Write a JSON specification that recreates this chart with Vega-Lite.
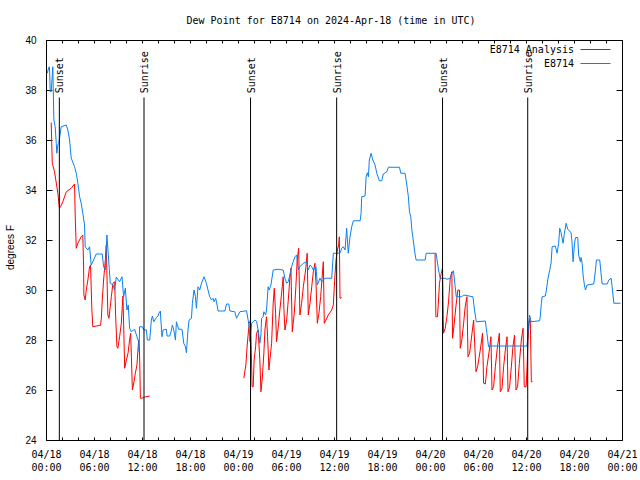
{
  "$schema": "https://vega.github.io/schema/vega-lite/v6.json",
  "width": 576,
  "height": 400,
  "autosize": "none",
  "padding": {"left": 46, "top": 40, "right": 18, "bottom": 40},
  "background": "white",
  "config": {
    "view": {"stroke": "black", "strokeWidth": 1},
    "axis": {"grid": false, "domain": false, "tickColor": "black", "labelColor": "black"}
  },
  "title": {
    "text": "Dew Point for E8714 on 2024-Apr-18 (time in UTC)",
    "font": "DejaVu Sans Mono", "fontSize": 10, "fontWeight": "normal", "color": "black",
    "anchor": "middle", "frame": "group", "offset": 9, "dx": -3
  },
  "resolve": {"axis": {"x": "independent", "y": "independent"}},
  "layer": [
    {
      "data": {
        "values": [
          {"s": "E8714 Analysis", "g": 1, "t": "2024-04-18T00:39:00Z", "v": 36.7},
          {"s": "E8714 Analysis", "g": 1, "t": "2024-04-18T00:47:00Z", "v": 35.07},
          {"s": "E8714 Analysis", "g": 1, "t": "2024-04-18T01:04:00Z", "v": 34.73},
          {"s": "E8714 Analysis", "g": 1, "t": "2024-04-18T01:29:00Z", "v": 33.87},
          {"s": "E8714 Analysis", "g": 1, "t": "2024-04-18T01:41:00Z", "v": 33.27},
          {"s": "E8714 Analysis", "g": 1, "t": "2024-04-18T01:49:00Z", "v": 33.33},
          {"s": "E8714 Analysis", "g": 1, "t": "2024-04-18T02:06:00Z", "v": 33.53},
          {"s": "E8714 Analysis", "g": 1, "t": "2024-04-18T02:32:00Z", "v": 33.93},
          {"s": "E8714 Analysis", "g": 1, "t": "2024-04-18T03:09:00Z", "v": 34.07},
          {"s": "E8714 Analysis", "g": 1, "t": "2024-04-18T03:34:00Z", "v": 34.24},
          {"s": "E8714 Analysis", "g": 1, "t": "2024-04-18T03:39:00Z", "v": 33.0},
          {"s": "E8714 Analysis", "g": 1, "t": "2024-04-18T03:47:00Z", "v": 31.67},
          {"s": "E8714 Analysis", "g": 1, "t": "2024-04-18T03:59:00Z", "v": 31.87},
          {"s": "E8714 Analysis", "g": 1, "t": "2024-04-18T04:24:00Z", "v": 32.13},
          {"s": "E8714 Analysis", "g": 1, "t": "2024-04-18T04:36:00Z", "v": 32.2},
          {"s": "E8714 Analysis", "g": 1, "t": "2024-04-18T04:42:00Z", "v": 31.0},
          {"s": "E8714 Analysis", "g": 1, "t": "2024-04-18T04:44:00Z", "v": 29.8},
          {"s": "E8714 Analysis", "g": 1, "t": "2024-04-18T04:54:00Z", "v": 29.6},
          {"s": "E8714 Analysis", "g": 1, "t": "2024-04-18T05:02:00Z", "v": 30.0},
          {"s": "E8714 Analysis", "g": 1, "t": "2024-04-18T05:14:00Z", "v": 30.4},
          {"s": "E8714 Analysis", "g": 1, "t": "2024-04-18T05:27:00Z", "v": 30.93},
          {"s": "E8714 Analysis", "g": 1, "t": "2024-04-18T05:34:00Z", "v": 31.0},
          {"s": "E8714 Analysis", "g": 1, "t": "2024-04-18T05:44:00Z", "v": 29.2},
          {"s": "E8714 Analysis", "g": 1, "t": "2024-04-18T05:51:00Z", "v": 28.53},
          {"s": "E8714 Analysis", "g": 1, "t": "2024-04-18T06:17:00Z", "v": 28.56},
          {"s": "E8714 Analysis", "g": 1, "t": "2024-04-18T06:49:00Z", "v": 28.59},
          {"s": "E8714 Analysis", "g": 1, "t": "2024-04-18T06:55:00Z", "v": 28.87},
          {"s": "E8714 Analysis", "g": 1, "t": "2024-04-18T07:02:00Z", "v": 29.6},
          {"s": "E8714 Analysis", "g": 1, "t": "2024-04-18T07:12:00Z", "v": 30.4},
          {"s": "E8714 Analysis", "g": 1, "t": "2024-04-18T07:25:00Z", "v": 31.2},
          {"s": "E8714 Analysis", "g": 1, "t": "2024-04-18T07:32:00Z", "v": 31.8},
          {"s": "E8714 Analysis", "g": 1, "t": "2024-04-18T07:44:00Z", "v": 29.0},
          {"s": "E8714 Analysis", "g": 1, "t": "2024-04-18T07:52:00Z", "v": 28.87},
          {"s": "E8714 Analysis", "g": 1, "t": "2024-04-18T08:02:00Z", "v": 29.33},
          {"s": "E8714 Analysis", "g": 1, "t": "2024-04-18T08:10:00Z", "v": 29.73},
          {"s": "E8714 Analysis", "g": 1, "t": "2024-04-18T08:22:00Z", "v": 30.27},
          {"s": "E8714 Analysis", "g": 1, "t": "2024-04-18T08:35:00Z", "v": 30.33},
          {"s": "E8714 Analysis", "g": 1, "t": "2024-04-18T08:42:00Z", "v": 29.0},
          {"s": "E8714 Analysis", "g": 1, "t": "2024-04-18T08:52:00Z", "v": 27.73},
          {"s": "E8714 Analysis", "g": 1, "t": "2024-04-18T08:59:00Z", "v": 27.67},
          {"s": "E8714 Analysis", "g": 1, "t": "2024-04-18T09:12:00Z", "v": 28.13},
          {"s": "E8714 Analysis", "g": 1, "t": "2024-04-18T09:25:00Z", "v": 28.67},
          {"s": "E8714 Analysis", "g": 1, "t": "2024-04-18T09:32:00Z", "v": 29.33},
          {"s": "E8714 Analysis", "g": 1, "t": "2024-04-18T09:37:00Z", "v": 29.76},
          {"s": "E8714 Analysis", "g": 1, "t": "2024-04-18T09:44:00Z", "v": 28.27},
          {"s": "E8714 Analysis", "g": 1, "t": "2024-04-18T09:50:00Z", "v": 26.87},
          {"s": "E8714 Analysis", "g": 1, "t": "2024-04-18T10:03:00Z", "v": 27.2},
          {"s": "E8714 Analysis", "g": 1, "t": "2024-04-18T10:15:00Z", "v": 27.47},
          {"s": "E8714 Analysis", "g": 1, "t": "2024-04-18T10:27:00Z", "v": 28.0},
          {"s": "E8714 Analysis", "g": 1, "t": "2024-04-18T10:35:00Z", "v": 28.27},
          {"s": "E8714 Analysis", "g": 1, "t": "2024-04-18T10:40:00Z", "v": 27.4},
          {"s": "E8714 Analysis", "g": 1, "t": "2024-04-18T10:48:00Z", "v": 26.0},
          {"s": "E8714 Analysis", "g": 1, "t": "2024-04-18T11:00:00Z", "v": 26.33},
          {"s": "E8714 Analysis", "g": 1, "t": "2024-04-18T11:10:00Z", "v": 26.67},
          {"s": "E8714 Analysis", "g": 1, "t": "2024-04-18T11:22:00Z", "v": 27.0},
          {"s": "E8714 Analysis", "g": 1, "t": "2024-04-18T11:35:00Z", "v": 28.0},
          {"s": "E8714 Analysis", "g": 1, "t": "2024-04-18T11:42:00Z", "v": 27.4},
          {"s": "E8714 Analysis", "g": 1, "t": "2024-04-18T11:48:00Z", "v": 25.67},
          {"s": "E8714 Analysis", "g": 1, "t": "2024-04-18T11:57:00Z", "v": 25.67},
          {"s": "E8714 Analysis", "g": 1, "t": "2024-04-18T12:28:00Z", "v": 25.73},
          {"s": "E8714 Analysis", "g": 1, "t": "2024-04-18T12:58:00Z", "v": 25.76},
          {"s": "E8714 Analysis", "g": 2, "t": "2024-04-19T00:44:00Z", "v": 26.47},
          {"s": "E8714 Analysis", "g": 2, "t": "2024-04-19T00:59:00Z", "v": 27.0},
          {"s": "E8714 Analysis", "g": 2, "t": "2024-04-19T01:09:00Z", "v": 27.8},
          {"s": "E8714 Analysis", "g": 2, "t": "2024-04-19T01:24:00Z", "v": 28.67},
          {"s": "E8714 Analysis", "g": 2, "t": "2024-04-19T01:34:00Z", "v": 28.8},
          {"s": "E8714 Analysis", "g": 2, "t": "2024-04-19T01:46:00Z", "v": 26.13},
          {"s": "E8714 Analysis", "g": 2, "t": "2024-04-19T01:54:00Z", "v": 26.13},
          {"s": "E8714 Analysis", "g": 2, "t": "2024-04-19T02:01:00Z", "v": 27.2},
          {"s": "E8714 Analysis", "g": 2, "t": "2024-04-19T02:12:00Z", "v": 27.73},
          {"s": "E8714 Analysis", "g": 2, "t": "2024-04-19T02:19:00Z", "v": 28.27},
          {"s": "E8714 Analysis", "g": 2, "t": "2024-04-19T02:31:00Z", "v": 28.4},
          {"s": "E8714 Analysis", "g": 2, "t": "2024-04-19T02:44:00Z", "v": 27.2},
          {"s": "E8714 Analysis", "g": 2, "t": "2024-04-19T02:52:00Z", "v": 25.93},
          {"s": "E8714 Analysis", "g": 2, "t": "2024-04-19T03:01:00Z", "v": 26.4},
          {"s": "E8714 Analysis", "g": 2, "t": "2024-04-19T03:14:00Z", "v": 27.47},
          {"s": "E8714 Analysis", "g": 2, "t": "2024-04-19T03:22:00Z", "v": 28.4},
          {"s": "E8714 Analysis", "g": 2, "t": "2024-04-19T03:34:00Z", "v": 28.93},
          {"s": "E8714 Analysis", "g": 2, "t": "2024-04-19T03:42:00Z", "v": 28.13},
          {"s": "E8714 Analysis", "g": 2, "t": "2024-04-19T03:52:00Z", "v": 26.8},
          {"s": "E8714 Analysis", "g": 2, "t": "2024-04-19T03:59:00Z", "v": 27.2},
          {"s": "E8714 Analysis", "g": 2, "t": "2024-04-19T04:12:00Z", "v": 27.87},
          {"s": "E8714 Analysis", "g": 2, "t": "2024-04-19T04:24:00Z", "v": 29.47},
          {"s": "E8714 Analysis", "g": 2, "t": "2024-04-19T04:32:00Z", "v": 30.07},
          {"s": "E8714 Analysis", "g": 2, "t": "2024-04-19T04:42:00Z", "v": 29.07},
          {"s": "E8714 Analysis", "g": 2, "t": "2024-04-19T04:49:00Z", "v": 27.93},
          {"s": "E8714 Analysis", "g": 2, "t": "2024-04-19T05:02:00Z", "v": 28.53},
          {"s": "E8714 Analysis", "g": 2, "t": "2024-04-19T05:14:00Z", "v": 29.2},
          {"s": "E8714 Analysis", "g": 2, "t": "2024-04-19T05:32:00Z", "v": 30.13},
          {"s": "E8714 Analysis", "g": 2, "t": "2024-04-19T05:39:00Z", "v": 30.53},
          {"s": "E8714 Analysis", "g": 2, "t": "2024-04-19T05:44:00Z", "v": 29.27},
          {"s": "E8714 Analysis", "g": 2, "t": "2024-04-19T05:52:00Z", "v": 28.4},
          {"s": "E8714 Analysis", "g": 2, "t": "2024-04-19T06:05:00Z", "v": 28.8},
          {"s": "E8714 Analysis", "g": 2, "t": "2024-04-19T06:17:00Z", "v": 29.6},
          {"s": "E8714 Analysis", "g": 2, "t": "2024-04-19T06:29:00Z", "v": 30.47},
          {"s": "E8714 Analysis", "g": 2, "t": "2024-04-19T06:37:00Z", "v": 30.87},
          {"s": "E8714 Analysis", "g": 2, "t": "2024-04-19T06:47:00Z", "v": 28.33},
          {"s": "E8714 Analysis", "g": 2, "t": "2024-04-19T07:02:00Z", "v": 29.07},
          {"s": "E8714 Analysis", "g": 2, "t": "2024-04-19T07:14:00Z", "v": 30.13},
          {"s": "E8714 Analysis", "g": 2, "t": "2024-04-19T07:24:00Z", "v": 31.2},
          {"s": "E8714 Analysis", "g": 2, "t": "2024-04-19T07:35:00Z", "v": 31.67},
          {"s": "E8714 Analysis", "g": 2, "t": "2024-04-19T07:44:00Z", "v": 29.0},
          {"s": "E8714 Analysis", "g": 2, "t": "2024-04-19T07:57:00Z", "v": 29.47},
          {"s": "E8714 Analysis", "g": 2, "t": "2024-04-19T08:10:00Z", "v": 30.13},
          {"s": "E8714 Analysis", "g": 2, "t": "2024-04-19T08:27:00Z", "v": 30.8},
          {"s": "E8714 Analysis", "g": 2, "t": "2024-04-19T08:39:00Z", "v": 31.47},
          {"s": "E8714 Analysis", "g": 2, "t": "2024-04-19T08:47:00Z", "v": 29.0},
          {"s": "E8714 Analysis", "g": 2, "t": "2024-04-19T09:00:00Z", "v": 29.47},
          {"s": "E8714 Analysis", "g": 2, "t": "2024-04-19T09:13:00Z", "v": 30.13},
          {"s": "E8714 Analysis", "g": 2, "t": "2024-04-19T09:25:00Z", "v": 30.73},
          {"s": "E8714 Analysis", "g": 2, "t": "2024-04-19T09:37:00Z", "v": 31.07},
          {"s": "E8714 Analysis", "g": 2, "t": "2024-04-19T09:45:00Z", "v": 30.27},
          {"s": "E8714 Analysis", "g": 2, "t": "2024-04-19T09:55:00Z", "v": 28.67},
          {"s": "E8714 Analysis", "g": 2, "t": "2024-04-19T10:07:00Z", "v": 29.07},
          {"s": "E8714 Analysis", "g": 2, "t": "2024-04-19T10:20:00Z", "v": 29.73},
          {"s": "E8714 Analysis", "g": 2, "t": "2024-04-19T10:35:00Z", "v": 30.8},
          {"s": "E8714 Analysis", "g": 2, "t": "2024-04-19T10:40:00Z", "v": 31.13},
          {"s": "E8714 Analysis", "g": 2, "t": "2024-04-19T10:47:00Z", "v": 28.67},
          {"s": "E8714 Analysis", "g": 2, "t": "2024-04-19T11:00:00Z", "v": 28.8},
          {"s": "E8714 Analysis", "g": 2, "t": "2024-04-19T11:17:00Z", "v": 29.0},
          {"s": "E8714 Analysis", "g": 2, "t": "2024-04-19T11:43:00Z", "v": 29.2},
          {"s": "E8714 Analysis", "g": 2, "t": "2024-04-19T11:55:00Z", "v": 29.4},
          {"s": "E8714 Analysis", "g": 2, "t": "2024-04-19T12:05:00Z", "v": 30.4},
          {"s": "E8714 Analysis", "g": 2, "t": "2024-04-19T12:15:00Z", "v": 31.2},
          {"s": "E8714 Analysis", "g": 2, "t": "2024-04-19T12:25:00Z", "v": 31.6},
          {"s": "E8714 Analysis", "g": 2, "t": "2024-04-19T12:35:00Z", "v": 31.8},
          {"s": "E8714 Analysis", "g": 2, "t": "2024-04-19T12:40:00Z", "v": 32.13},
          {"s": "E8714 Analysis", "g": 2, "t": "2024-04-19T12:45:00Z", "v": 29.67},
          {"s": "E8714 Analysis", "g": 2, "t": "2024-04-19T12:58:00Z", "v": 29.7},
          {"s": "E8714 Analysis", "g": 3, "t": "2024-04-20T00:38:00Z", "v": 31.47},
          {"s": "E8714 Analysis", "g": 3, "t": "2024-04-20T00:44:00Z", "v": 28.93},
          {"s": "E8714 Analysis", "g": 3, "t": "2024-04-20T00:56:00Z", "v": 28.93},
          {"s": "E8714 Analysis", "g": 3, "t": "2024-04-20T01:04:00Z", "v": 29.6},
          {"s": "E8714 Analysis", "g": 3, "t": "2024-04-20T01:11:00Z", "v": 30.27},
          {"s": "E8714 Analysis", "g": 3, "t": "2024-04-20T01:24:00Z", "v": 30.67},
          {"s": "E8714 Analysis", "g": 3, "t": "2024-04-20T01:34:00Z", "v": 30.87},
          {"s": "E8714 Analysis", "g": 3, "t": "2024-04-20T01:41:00Z", "v": 28.27},
          {"s": "E8714 Analysis", "g": 3, "t": "2024-04-20T01:54:00Z", "v": 28.47},
          {"s": "E8714 Analysis", "g": 3, "t": "2024-04-20T02:07:00Z", "v": 28.93},
          {"s": "E8714 Analysis", "g": 3, "t": "2024-04-20T02:19:00Z", "v": 29.53},
          {"s": "E8714 Analysis", "g": 3, "t": "2024-04-20T02:32:00Z", "v": 30.47},
          {"s": "E8714 Analysis", "g": 3, "t": "2024-04-20T02:44:00Z", "v": 30.73},
          {"s": "E8714 Analysis", "g": 3, "t": "2024-04-20T02:49:00Z", "v": 28.07},
          {"s": "E8714 Analysis", "g": 3, "t": "2024-04-20T03:02:00Z", "v": 28.67},
          {"s": "E8714 Analysis", "g": 3, "t": "2024-04-20T03:14:00Z", "v": 29.33},
          {"s": "E8714 Analysis", "g": 3, "t": "2024-04-20T03:29:00Z", "v": 30.0},
          {"s": "E8714 Analysis", "g": 3, "t": "2024-04-20T03:41:00Z", "v": 30.0},
          {"s": "E8714 Analysis", "g": 3, "t": "2024-04-20T03:47:00Z", "v": 27.67},
          {"s": "E8714 Analysis", "g": 3, "t": "2024-04-20T03:59:00Z", "v": 28.0},
          {"s": "E8714 Analysis", "g": 3, "t": "2024-04-20T04:12:00Z", "v": 28.67},
          {"s": "E8714 Analysis", "g": 3, "t": "2024-04-20T04:24:00Z", "v": 29.33},
          {"s": "E8714 Analysis", "g": 3, "t": "2024-04-20T04:37:00Z", "v": 29.73},
          {"s": "E8714 Analysis", "g": 3, "t": "2024-04-20T04:45:00Z", "v": 27.33},
          {"s": "E8714 Analysis", "g": 3, "t": "2024-04-20T04:57:00Z", "v": 27.47},
          {"s": "E8714 Analysis", "g": 3, "t": "2024-04-20T05:15:00Z", "v": 28.27},
          {"s": "E8714 Analysis", "g": 3, "t": "2024-04-20T05:27:00Z", "v": 28.8},
          {"s": "E8714 Analysis", "g": 3, "t": "2024-04-20T05:45:00Z", "v": 26.73},
          {"s": "E8714 Analysis", "g": 3, "t": "2024-04-20T05:57:00Z", "v": 26.93},
          {"s": "E8714 Analysis", "g": 3, "t": "2024-04-20T06:17:00Z", "v": 27.6},
          {"s": "E8714 Analysis", "g": 3, "t": "2024-04-20T06:34:00Z", "v": 28.27},
          {"s": "E8714 Analysis", "g": 3, "t": "2024-04-20T06:42:00Z", "v": 26.27},
          {"s": "E8714 Analysis", "g": 3, "t": "2024-04-20T06:55:00Z", "v": 26.24},
          {"s": "E8714 Analysis", "g": 3, "t": "2024-04-20T07:07:00Z", "v": 26.93},
          {"s": "E8714 Analysis", "g": 3, "t": "2024-04-20T07:25:00Z", "v": 27.6},
          {"s": "E8714 Analysis", "g": 3, "t": "2024-04-20T07:37:00Z", "v": 28.13},
          {"s": "E8714 Analysis", "g": 3, "t": "2024-04-20T07:45:00Z", "v": 26.0},
          {"s": "E8714 Analysis", "g": 3, "t": "2024-04-20T07:57:00Z", "v": 26.13},
          {"s": "E8714 Analysis", "g": 3, "t": "2024-04-20T08:10:00Z", "v": 26.93},
          {"s": "E8714 Analysis", "g": 3, "t": "2024-04-20T08:23:00Z", "v": 27.6},
          {"s": "E8714 Analysis", "g": 3, "t": "2024-04-20T08:40:00Z", "v": 28.27},
          {"s": "E8714 Analysis", "g": 3, "t": "2024-04-20T08:47:00Z", "v": 25.93},
          {"s": "E8714 Analysis", "g": 3, "t": "2024-04-20T09:00:00Z", "v": 26.07},
          {"s": "E8714 Analysis", "g": 3, "t": "2024-04-20T09:12:00Z", "v": 26.93},
          {"s": "E8714 Analysis", "g": 3, "t": "2024-04-20T09:25:00Z", "v": 27.6},
          {"s": "E8714 Analysis", "g": 3, "t": "2024-04-20T09:38:00Z", "v": 28.13},
          {"s": "E8714 Analysis", "g": 3, "t": "2024-04-20T09:45:00Z", "v": 25.93},
          {"s": "E8714 Analysis", "g": 3, "t": "2024-04-20T09:57:00Z", "v": 26.13},
          {"s": "E8714 Analysis", "g": 3, "t": "2024-04-20T10:10:00Z", "v": 26.93},
          {"s": "E8714 Analysis", "g": 3, "t": "2024-04-20T10:22:00Z", "v": 27.73},
          {"s": "E8714 Analysis", "g": 3, "t": "2024-04-20T10:34:00Z", "v": 28.2},
          {"s": "E8714 Analysis", "g": 3, "t": "2024-04-20T10:45:00Z", "v": 26.0},
          {"s": "E8714 Analysis", "g": 3, "t": "2024-04-20T10:57:00Z", "v": 26.13},
          {"s": "E8714 Analysis", "g": 3, "t": "2024-04-20T11:10:00Z", "v": 27.07},
          {"s": "E8714 Analysis", "g": 3, "t": "2024-04-20T11:25:00Z", "v": 28.0},
          {"s": "E8714 Analysis", "g": 3, "t": "2024-04-20T11:38:00Z", "v": 28.47},
          {"s": "E8714 Analysis", "g": 3, "t": "2024-04-20T11:47:00Z", "v": 26.13},
          {"s": "E8714 Analysis", "g": 3, "t": "2024-04-20T12:01:00Z", "v": 26.13},
          {"s": "E8714 Analysis", "g": 3, "t": "2024-04-20T12:08:00Z", "v": 26.93},
          {"s": "E8714 Analysis", "g": 3, "t": "2024-04-20T12:15:00Z", "v": 28.0},
          {"s": "E8714 Analysis", "g": 3, "t": "2024-04-20T12:23:00Z", "v": 28.67},
          {"s": "E8714 Analysis", "g": 3, "t": "2024-04-20T12:32:00Z", "v": 28.87},
          {"s": "E8714 Analysis", "g": 3, "t": "2024-04-20T12:40:00Z", "v": 26.33},
          {"s": "E8714 Analysis", "g": 3, "t": "2024-04-20T12:50:00Z", "v": 26.33}
        ]
      },
      "mark": {"type": "line", "strokeWidth": 1},
      "encoding": {
        "x": {
          "field": "t", "type": "temporal",
          "scale": {"type": "utc", "nice": false, "domain": [1713398400000, 1713657600000]},
          "axis": {
            "orient": "bottom", "title": null,
            "values": [1713398400000, 1713405600000, 1713412800000, 1713420000000, 1713427200000, 1713434400000, 1713441600000, 1713448800000, 1713456000000, 1713463200000, 1713470400000, 1713477600000, 1713484800000, 1713492000000, 1713499200000, 1713506400000, 1713513600000, 1713520800000, 1713528000000, 1713535200000, 1713542400000, 1713549600000, 1713556800000, 1713564000000, 1713571200000, 1713578400000, 1713585600000, 1713592800000, 1713600000000, 1713607200000, 1713614400000, 1713621600000, 1713628800000, 1713636000000, 1713643200000, 1713650400000, 1713657600000],
            "tickCount": 40,
            "tickSize": -3,
            "labelExpr": "utchours(datum.value) % 6 == 0 ? [utcFormat(datum.value, '%m/%d'), utcFormat(datum.value, '%H:%M')] : ''",
            "labelFont": "DejaVu Sans Mono", "labelFontSize": 10, "labelLineHeight": 13,
            "labelBaseline": "top", "labelPadding": 12,
            "labelOverlap": false, "labelFlush": false, "labelBound": false
          }
        },
        "y": {
          "field": "v", "type": "quantitative",
          "scale": {"domain": [24, 40], "nice": false, "zero": false},
          "axis": {
            "orient": "left",
            "values": [24, 26, 28, 30, 32, 34, 36, 38, 40], "tickCount": 10,
            "tickSize": -6, "labelFont": "Liberation Sans", "labelFontSize": 10, "labelPadding": 16,
            "title": "degrees F", "titleFont": "Liberation Sans", "titleFontSize": 10, "titleFontWeight": "normal",
            "titleColor": "black", "titleX": -33, "titleY": 207, "titleAngle": 270, "titleAlign": "center", "titleBaseline": "alphabetic"
          }
        },
        "detail": {"field": "g", "type": "nominal"},
        "color": {
          "field": "s", "type": "nominal",
          "scale": {"domain": ["E8714 Analysis", "E8714"], "range": ["#ff0000", "#0a80f0"]},
          "legend": {
            "orient": "none", "legendX": 544, "legendY": 4, "title": null, "padding": 0,
            "symbolType": "M-3,0H3", "symbolSize": 100, "symbolStrokeWidth": 1, "symbolOffset": 0,
            "labelFont": "DejaVu Sans Mono", "labelFontSize": 10, "labelColor": "black",
            "labelAlign": "right", "labelOffset": -27, "rowPadding": 3,
            "encode": {"symbols": {"update": {"stroke": {"scale": "color", "field": "value"}, "fill": {"value": "transparent"}}}}
          }
        }
      }
    },
    {
      "data": {
        "values": [
          {"s": "E8714", "t": "2024-04-18T00:09:00Z", "v": 38.67},
          {"s": "E8714", "t": "2024-04-18T00:21:00Z", "v": 38.9},
          {"s": "E8714", "t": "2024-04-18T00:26:00Z", "v": 38.93},
          {"s": "E8714", "t": "2024-04-18T00:32:00Z", "v": 37.93},
          {"s": "E8714", "t": "2024-04-18T00:39:00Z", "v": 37.93},
          {"s": "E8714", "t": "2024-04-18T00:51:00Z", "v": 38.93},
          {"s": "E8714", "t": "2024-04-18T00:59:00Z", "v": 36.8},
          {"s": "E8714", "t": "2024-04-18T01:09:00Z", "v": 36.53},
          {"s": "E8714", "t": "2024-04-18T01:17:00Z", "v": 35.87},
          {"s": "E8714", "t": "2024-04-18T01:21:00Z", "v": 35.47},
          {"s": "E8714", "t": "2024-04-18T01:29:00Z", "v": 35.8},
          {"s": "E8714", "t": "2024-04-18T01:36:00Z", "v": 35.87},
          {"s": "E8714", "t": "2024-04-18T01:54:00Z", "v": 36.53},
          {"s": "E8714", "t": "2024-04-18T02:32:00Z", "v": 36.6},
          {"s": "E8714", "t": "2024-04-18T02:44:00Z", "v": 36.4},
          {"s": "E8714", "t": "2024-04-18T02:57:00Z", "v": 36.0},
          {"s": "E8714", "t": "2024-04-18T03:09:00Z", "v": 35.28},
          {"s": "E8714", "t": "2024-04-18T03:34:00Z", "v": 34.93},
          {"s": "E8714", "t": "2024-04-18T03:47:00Z", "v": 34.67},
          {"s": "E8714", "t": "2024-04-18T03:59:00Z", "v": 34.27},
          {"s": "E8714", "t": "2024-04-18T04:12:00Z", "v": 33.73},
          {"s": "E8714", "t": "2024-04-18T04:24:00Z", "v": 33.47},
          {"s": "E8714", "t": "2024-04-18T04:36:00Z", "v": 33.07},
          {"s": "E8714", "t": "2024-04-18T04:49:00Z", "v": 32.6},
          {"s": "E8714", "t": "2024-04-18T04:54:00Z", "v": 31.73},
          {"s": "E8714", "t": "2024-04-18T05:14:00Z", "v": 31.6},
          {"s": "E8714", "t": "2024-04-18T05:27:00Z", "v": 31.73},
          {"s": "E8714", "t": "2024-04-18T05:39:00Z", "v": 31.0},
          {"s": "E8714", "t": "2024-04-18T05:51:00Z", "v": 31.13},
          {"s": "E8714", "t": "2024-04-18T06:17:00Z", "v": 31.44},
          {"s": "E8714", "t": "2024-04-18T07:02:00Z", "v": 31.44},
          {"s": "E8714", "t": "2024-04-18T07:12:00Z", "v": 30.93},
          {"s": "E8714", "t": "2024-04-18T07:25:00Z", "v": 30.8},
          {"s": "E8714", "t": "2024-04-18T07:37:00Z", "v": 32.2},
          {"s": "E8714", "t": "2024-04-18T07:50:00Z", "v": 31.2},
          {"s": "E8714", "t": "2024-04-18T08:02:00Z", "v": 30.27},
          {"s": "E8714", "t": "2024-04-18T08:22:00Z", "v": 30.2},
          {"s": "E8714", "t": "2024-04-18T08:35:00Z", "v": 30.0},
          {"s": "E8714", "t": "2024-04-18T08:47:00Z", "v": 30.52},
          {"s": "E8714", "t": "2024-04-18T09:12:00Z", "v": 30.33},
          {"s": "E8714", "t": "2024-04-18T09:30:00Z", "v": 30.53},
          {"s": "E8714", "t": "2024-04-18T09:42:00Z", "v": 29.73},
          {"s": "E8714", "t": "2024-04-18T09:55:00Z", "v": 30.07},
          {"s": "E8714", "t": "2024-04-18T10:07:00Z", "v": 29.2},
          {"s": "E8714", "t": "2024-04-18T10:17:00Z", "v": 29.4},
          {"s": "E8714", "t": "2024-04-18T10:27:00Z", "v": 28.47},
          {"s": "E8714", "t": "2024-04-18T10:40:00Z", "v": 28.33},
          {"s": "E8714", "t": "2024-04-18T11:05:00Z", "v": 28.43},
          {"s": "E8714", "t": "2024-04-18T11:22:00Z", "v": 28.13},
          {"s": "E8714", "t": "2024-04-18T11:35:00Z", "v": 27.93},
          {"s": "E8714", "t": "2024-04-18T11:38:00Z", "v": 27.55},
          {"s": "E8714", "t": "2024-04-18T11:42:00Z", "v": 28.53},
          {"s": "E8714", "t": "2024-04-18T12:03:00Z", "v": 28.53},
          {"s": "E8714", "t": "2024-04-18T12:13:00Z", "v": 28.4},
          {"s": "E8714", "t": "2024-04-18T12:33:00Z", "v": 28.4},
          {"s": "E8714", "t": "2024-04-18T12:40:00Z", "v": 28.0},
          {"s": "E8714", "t": "2024-04-18T12:58:00Z", "v": 28.0},
          {"s": "E8714", "t": "2024-04-18T13:10:00Z", "v": 28.8},
          {"s": "E8714", "t": "2024-04-18T13:18:00Z", "v": 28.96},
          {"s": "E8714", "t": "2024-04-18T13:28:00Z", "v": 28.73},
          {"s": "E8714", "t": "2024-04-18T13:48:00Z", "v": 28.9},
          {"s": "E8714", "t": "2024-04-18T14:00:00Z", "v": 28.96},
          {"s": "E8714", "t": "2024-04-18T14:07:00Z", "v": 29.07},
          {"s": "E8714", "t": "2024-04-18T14:18:00Z", "v": 29.16},
          {"s": "E8714", "t": "2024-04-18T14:20:00Z", "v": 28.92},
          {"s": "E8714", "t": "2024-04-18T14:30:00Z", "v": 28.13},
          {"s": "E8714", "t": "2024-04-18T14:38:00Z", "v": 28.4},
          {"s": "E8714", "t": "2024-04-18T15:03:00Z", "v": 28.43},
          {"s": "E8714", "t": "2024-04-18T15:08:00Z", "v": 28.16},
          {"s": "E8714", "t": "2024-04-18T15:28:00Z", "v": 28.16},
          {"s": "E8714", "t": "2024-04-18T15:41:00Z", "v": 28.4},
          {"s": "E8714", "t": "2024-04-18T15:48:00Z", "v": 28.6},
          {"s": "E8714", "t": "2024-04-18T15:58:00Z", "v": 28.4},
          {"s": "E8714", "t": "2024-04-18T16:05:00Z", "v": 28.2},
          {"s": "E8714", "t": "2024-04-18T16:11:00Z", "v": 28.0},
          {"s": "E8714", "t": "2024-04-18T16:18:00Z", "v": 28.73},
          {"s": "E8714", "t": "2024-04-18T16:35:00Z", "v": 28.43},
          {"s": "E8714", "t": "2024-04-18T17:00:00Z", "v": 28.43},
          {"s": "E8714", "t": "2024-04-18T17:13:00Z", "v": 27.87},
          {"s": "E8714", "t": "2024-04-18T17:26:00Z", "v": 27.73},
          {"s": "E8714", "t": "2024-04-18T17:33:00Z", "v": 27.49},
          {"s": "E8714", "t": "2024-04-18T17:45:00Z", "v": 28.4},
          {"s": "E8714", "t": "2024-04-18T17:53:00Z", "v": 28.8},
          {"s": "E8714", "t": "2024-04-18T18:11:00Z", "v": 28.87},
          {"s": "E8714", "t": "2024-04-18T18:18:00Z", "v": 29.47},
          {"s": "E8714", "t": "2024-04-18T18:30:00Z", "v": 30.0},
          {"s": "E8714", "t": "2024-04-18T18:41:00Z", "v": 29.73},
          {"s": "E8714", "t": "2024-04-18T18:48:00Z", "v": 29.27},
          {"s": "E8714", "t": "2024-04-18T19:00:00Z", "v": 30.13},
          {"s": "E8714", "t": "2024-04-18T19:13:00Z", "v": 30.0},
          {"s": "E8714", "t": "2024-04-18T19:26:00Z", "v": 30.27},
          {"s": "E8714", "t": "2024-04-18T19:45:00Z", "v": 30.53},
          {"s": "E8714", "t": "2024-04-18T20:03:00Z", "v": 30.27},
          {"s": "E8714", "t": "2024-04-18T20:15:00Z", "v": 30.0},
          {"s": "E8714", "t": "2024-04-18T20:28:00Z", "v": 29.73},
          {"s": "E8714", "t": "2024-04-18T20:41:00Z", "v": 29.6},
          {"s": "E8714", "t": "2024-04-18T20:53:00Z", "v": 29.67},
          {"s": "E8714", "t": "2024-04-18T21:01:00Z", "v": 29.53},
          {"s": "E8714", "t": "2024-04-18T21:13:00Z", "v": 29.67},
          {"s": "E8714", "t": "2024-04-18T21:23:00Z", "v": 29.4},
          {"s": "E8714", "t": "2024-04-18T21:31:00Z", "v": 29.16},
          {"s": "E8714", "t": "2024-04-18T22:21:00Z", "v": 29.16},
          {"s": "E8714", "t": "2024-04-18T22:34:00Z", "v": 29.44},
          {"s": "E8714", "t": "2024-04-18T22:51:00Z", "v": 29.44},
          {"s": "E8714", "t": "2024-04-18T22:59:00Z", "v": 29.16},
          {"s": "E8714", "t": "2024-04-18T23:36:00Z", "v": 29.13},
          {"s": "E8714", "t": "2024-04-18T23:49:00Z", "v": 28.87},
          {"s": "E8714", "t": "2024-04-19T00:14:00Z", "v": 29.13},
          {"s": "E8714", "t": "2024-04-19T01:04:00Z", "v": 29.17},
          {"s": "E8714", "t": "2024-04-19T01:16:00Z", "v": 28.8},
          {"s": "E8714", "t": "2024-04-19T01:24:00Z", "v": 28.53},
          {"s": "E8714", "t": "2024-04-19T01:29:00Z", "v": 27.93},
          {"s": "E8714", "t": "2024-04-19T01:42:00Z", "v": 28.67},
          {"s": "E8714", "t": "2024-04-19T02:07:00Z", "v": 28.8},
          {"s": "E8714", "t": "2024-04-19T02:19:00Z", "v": 28.75},
          {"s": "E8714", "t": "2024-04-19T02:31:00Z", "v": 28.4},
          {"s": "E8714", "t": "2024-04-19T02:44:00Z", "v": 27.87},
          {"s": "E8714", "t": "2024-04-19T02:52:00Z", "v": 28.2},
          {"s": "E8714", "t": "2024-04-19T02:57:00Z", "v": 28.87},
          {"s": "E8714", "t": "2024-04-19T03:09:00Z", "v": 28.93},
          {"s": "E8714", "t": "2024-04-19T03:14:00Z", "v": 29.13},
          {"s": "E8714", "t": "2024-04-19T03:27:00Z", "v": 29.0},
          {"s": "E8714", "t": "2024-04-19T03:34:00Z", "v": 29.2},
          {"s": "E8714", "t": "2024-04-19T03:46:00Z", "v": 30.13},
          {"s": "E8714", "t": "2024-04-19T03:54:00Z", "v": 30.0},
          {"s": "E8714", "t": "2024-04-19T04:07:00Z", "v": 30.2},
          {"s": "E8714", "t": "2024-04-19T04:24:00Z", "v": 30.8},
          {"s": "E8714", "t": "2024-04-19T05:02:00Z", "v": 30.83},
          {"s": "E8714", "t": "2024-04-19T05:39:00Z", "v": 30.8},
          {"s": "E8714", "t": "2024-04-19T05:52:00Z", "v": 30.47},
          {"s": "E8714", "t": "2024-04-19T06:05:00Z", "v": 30.27},
          {"s": "E8714", "t": "2024-04-19T06:17:00Z", "v": 30.33},
          {"s": "E8714", "t": "2024-04-19T06:29:00Z", "v": 30.6},
          {"s": "E8714", "t": "2024-04-19T06:42:00Z", "v": 30.93},
          {"s": "E8714", "t": "2024-04-19T06:54:00Z", "v": 31.13},
          {"s": "E8714", "t": "2024-04-19T07:07:00Z", "v": 31.33},
          {"s": "E8714", "t": "2024-04-19T07:20:00Z", "v": 31.4},
          {"s": "E8714", "t": "2024-04-19T07:32:00Z", "v": 30.8},
          {"s": "E8714", "t": "2024-04-19T07:44:00Z", "v": 30.93},
          {"s": "E8714", "t": "2024-04-19T08:10:00Z", "v": 31.07},
          {"s": "E8714", "t": "2024-04-19T08:35:00Z", "v": 31.13},
          {"s": "E8714", "t": "2024-04-19T08:47:00Z", "v": 30.8},
          {"s": "E8714", "t": "2024-04-19T09:00:00Z", "v": 31.0},
          {"s": "E8714", "t": "2024-04-19T09:13:00Z", "v": 30.93},
          {"s": "E8714", "t": "2024-04-19T09:25:00Z", "v": 30.8},
          {"s": "E8714", "t": "2024-04-19T09:45:00Z", "v": 30.93},
          {"s": "E8714", "t": "2024-04-19T09:55:00Z", "v": 30.2},
          {"s": "E8714", "t": "2024-04-19T10:15:00Z", "v": 30.47},
          {"s": "E8714", "t": "2024-04-19T10:28:00Z", "v": 30.33},
          {"s": "E8714", "t": "2024-04-19T10:52:00Z", "v": 30.47},
          {"s": "E8714", "t": "2024-04-19T11:43:00Z", "v": 30.47},
          {"s": "E8714", "t": "2024-04-19T11:55:00Z", "v": 31.47},
          {"s": "E8714", "t": "2024-04-19T12:45:00Z", "v": 31.47},
          {"s": "E8714", "t": "2024-04-19T12:58:00Z", "v": 31.67},
          {"s": "E8714", "t": "2024-04-19T13:10:00Z", "v": 31.73},
          {"s": "E8714", "t": "2024-04-19T13:23:00Z", "v": 31.6},
          {"s": "E8714", "t": "2024-04-19T13:35:00Z", "v": 32.47},
          {"s": "E8714", "t": "2024-04-19T13:47:00Z", "v": 31.47},
          {"s": "E8714", "t": "2024-04-19T14:00:00Z", "v": 32.13},
          {"s": "E8714", "t": "2024-04-19T14:13:00Z", "v": 32.53},
          {"s": "E8714", "t": "2024-04-19T14:25:00Z", "v": 32.77},
          {"s": "E8714", "t": "2024-04-19T15:16:00Z", "v": 32.77},
          {"s": "E8714", "t": "2024-04-19T15:23:00Z", "v": 33.07},
          {"s": "E8714", "t": "2024-04-19T15:28:00Z", "v": 33.73},
          {"s": "E8714", "t": "2024-04-19T15:53:00Z", "v": 33.76},
          {"s": "E8714", "t": "2024-04-19T16:01:00Z", "v": 34.53},
          {"s": "E8714", "t": "2024-04-19T16:10:00Z", "v": 34.69},
          {"s": "E8714", "t": "2024-04-19T16:18:00Z", "v": 34.53},
          {"s": "E8714", "t": "2024-04-19T16:25:00Z", "v": 35.2},
          {"s": "E8714", "t": "2024-04-19T16:38:00Z", "v": 35.47},
          {"s": "E8714", "t": "2024-04-19T16:51:00Z", "v": 35.2},
          {"s": "E8714", "t": "2024-04-19T17:08:00Z", "v": 35.0},
          {"s": "E8714", "t": "2024-04-19T17:21:00Z", "v": 34.67},
          {"s": "E8714", "t": "2024-04-19T17:40:00Z", "v": 34.37},
          {"s": "E8714", "t": "2024-04-19T17:58:00Z", "v": 34.37},
          {"s": "E8714", "t": "2024-04-19T18:10:00Z", "v": 34.64},
          {"s": "E8714", "t": "2024-04-19T18:36:00Z", "v": 34.73},
          {"s": "E8714", "t": "2024-04-19T18:48:00Z", "v": 34.91},
          {"s": "E8714", "t": "2024-04-19T20:11:00Z", "v": 34.91},
          {"s": "E8714", "t": "2024-04-19T20:21:00Z", "v": 34.67},
          {"s": "E8714", "t": "2024-04-19T20:53:00Z", "v": 34.67},
          {"s": "E8714", "t": "2024-04-19T21:06:00Z", "v": 34.2},
          {"s": "E8714", "t": "2024-04-19T21:18:00Z", "v": 33.73},
          {"s": "E8714", "t": "2024-04-19T21:26:00Z", "v": 33.13},
          {"s": "E8714", "t": "2024-04-19T21:36:00Z", "v": 32.93},
          {"s": "E8714", "t": "2024-04-19T21:44:00Z", "v": 32.4},
          {"s": "E8714", "t": "2024-04-19T21:51:00Z", "v": 32.13},
          {"s": "E8714", "t": "2024-04-19T22:01:00Z", "v": 31.73},
          {"s": "E8714", "t": "2024-04-19T22:09:00Z", "v": 31.4},
          {"s": "E8714", "t": "2024-04-19T22:16:00Z", "v": 31.2},
          {"s": "E8714", "t": "2024-04-19T23:24:00Z", "v": 31.2},
          {"s": "E8714", "t": "2024-04-19T23:31:00Z", "v": 31.47},
          {"s": "E8714", "t": "2024-04-20T00:46:00Z", "v": 31.47},
          {"s": "E8714", "t": "2024-04-20T00:51:00Z", "v": 31.27},
          {"s": "E8714", "t": "2024-04-20T01:04:00Z", "v": 30.8},
          {"s": "E8714", "t": "2024-04-20T01:16:00Z", "v": 30.47},
          {"s": "E8714", "t": "2024-04-20T01:54:00Z", "v": 30.47},
          {"s": "E8714", "t": "2024-04-20T02:07:00Z", "v": 30.43},
          {"s": "E8714", "t": "2024-04-20T02:32:00Z", "v": 30.47},
          {"s": "E8714", "t": "2024-04-20T02:44:00Z", "v": 30.67},
          {"s": "E8714", "t": "2024-04-20T02:56:00Z", "v": 30.77},
          {"s": "E8714", "t": "2024-04-20T03:09:00Z", "v": 30.13},
          {"s": "E8714", "t": "2024-04-20T03:17:00Z", "v": 29.73},
          {"s": "E8714", "t": "2024-04-20T03:59:00Z", "v": 29.73},
          {"s": "E8714", "t": "2024-04-20T04:12:00Z", "v": 29.8},
          {"s": "E8714", "t": "2024-04-20T05:22:00Z", "v": 29.73},
          {"s": "E8714", "t": "2024-04-20T05:34:00Z", "v": 29.2},
          {"s": "E8714", "t": "2024-04-20T05:47:00Z", "v": 28.73},
          {"s": "E8714", "t": "2024-04-20T06:55:00Z", "v": 28.76},
          {"s": "E8714", "t": "2024-04-20T07:07:00Z", "v": 28.27},
          {"s": "E8714", "t": "2024-04-20T07:19:00Z", "v": 27.73},
          {"s": "E8714", "t": "2024-04-20T07:37:00Z", "v": 27.76},
          {"s": "E8714", "t": "2024-04-20T12:08:00Z", "v": 27.76},
          {"s": "E8714", "t": "2024-04-20T12:20:00Z", "v": 28.67},
          {"s": "E8714", "t": "2024-04-20T12:27:00Z", "v": 29.0},
          {"s": "E8714", "t": "2024-04-20T12:38:00Z", "v": 28.73},
          {"s": "E8714", "t": "2024-04-20T13:43:00Z", "v": 28.77},
          {"s": "E8714", "t": "2024-04-20T13:48:00Z", "v": 29.0},
          {"s": "E8714", "t": "2024-04-20T13:55:00Z", "v": 29.47},
          {"s": "E8714", "t": "2024-04-20T14:01:00Z", "v": 29.73},
          {"s": "E8714", "t": "2024-04-20T14:25:00Z", "v": 29.76},
          {"s": "E8714", "t": "2024-04-20T14:33:00Z", "v": 30.0},
          {"s": "E8714", "t": "2024-04-20T14:43:00Z", "v": 30.4},
          {"s": "E8714", "t": "2024-04-20T14:58:00Z", "v": 30.8},
          {"s": "E8714", "t": "2024-04-20T15:08:00Z", "v": 31.07},
          {"s": "E8714", "t": "2024-04-20T15:16:00Z", "v": 31.73},
          {"s": "E8714", "t": "2024-04-20T15:40:00Z", "v": 31.76},
          {"s": "E8714", "t": "2024-04-20T15:53:00Z", "v": 31.47},
          {"s": "E8714", "t": "2024-04-20T16:05:00Z", "v": 31.87},
          {"s": "E8714", "t": "2024-04-20T16:13:00Z", "v": 32.47},
          {"s": "E8714", "t": "2024-04-20T16:23:00Z", "v": 32.29},
          {"s": "E8714", "t": "2024-04-20T16:38:00Z", "v": 31.87},
          {"s": "E8714", "t": "2024-04-20T16:48:00Z", "v": 32.27},
          {"s": "E8714", "t": "2024-04-20T17:01:00Z", "v": 32.67},
          {"s": "E8714", "t": "2024-04-20T17:13:00Z", "v": 32.43},
          {"s": "E8714", "t": "2024-04-20T17:38:00Z", "v": 32.3},
          {"s": "E8714", "t": "2024-04-20T17:46:00Z", "v": 31.87},
          {"s": "E8714", "t": "2024-04-20T17:53:00Z", "v": 31.13},
          {"s": "E8714", "t": "2024-04-20T18:03:00Z", "v": 31.8},
          {"s": "E8714", "t": "2024-04-20T18:11:00Z", "v": 32.1},
          {"s": "E8714", "t": "2024-04-20T18:28:00Z", "v": 32.1},
          {"s": "E8714", "t": "2024-04-20T18:35:00Z", "v": 31.4},
          {"s": "E8714", "t": "2024-04-20T18:48:00Z", "v": 31.13},
          {"s": "E8714", "t": "2024-04-20T18:53:00Z", "v": 31.3},
          {"s": "E8714", "t": "2024-04-20T19:01:00Z", "v": 31.07},
          {"s": "E8714", "t": "2024-04-20T19:08:00Z", "v": 30.6},
          {"s": "E8714", "t": "2024-04-20T19:18:00Z", "v": 30.2},
          {"s": "E8714", "t": "2024-04-20T19:26:00Z", "v": 30.0},
          {"s": "E8714", "t": "2024-04-20T19:38:00Z", "v": 30.2},
          {"s": "E8714", "t": "2024-04-20T20:28:00Z", "v": 30.24},
          {"s": "E8714", "t": "2024-04-20T20:41:00Z", "v": 30.8},
          {"s": "E8714", "t": "2024-04-20T20:48:00Z", "v": 31.2},
          {"s": "E8714", "t": "2024-04-20T21:13:00Z", "v": 31.2},
          {"s": "E8714", "t": "2024-04-20T21:24:00Z", "v": 30.6},
          {"s": "E8714", "t": "2024-04-20T21:31:00Z", "v": 30.24},
          {"s": "E8714", "t": "2024-04-20T22:09:00Z", "v": 30.24},
          {"s": "E8714", "t": "2024-04-20T22:21:00Z", "v": 30.4},
          {"s": "E8714", "t": "2024-04-20T22:39:00Z", "v": 30.47},
          {"s": "E8714", "t": "2024-04-20T22:46:00Z", "v": 30.13},
          {"s": "E8714", "t": "2024-04-20T22:59:00Z", "v": 29.47},
          {"s": "E8714", "t": "2024-04-20T23:49:00Z", "v": 29.47}
        ]
      },
      "mark": {"type": "line", "strokeWidth": 1},
      "encoding": {
        "x": {
          "field": "t", "type": "temporal",
          "axis": {
            "orient": "top", "title": null, "labels": false, "tickSize": -3, "tickCount": 40,
            "values": [1713398400000, 1713405600000, 1713412800000, 1713420000000, 1713427200000, 1713434400000, 1713441600000, 1713448800000, 1713456000000, 1713463200000, 1713470400000, 1713477600000, 1713484800000, 1713492000000, 1713499200000, 1713506400000, 1713513600000, 1713520800000, 1713528000000, 1713535200000, 1713542400000, 1713549600000, 1713556800000, 1713564000000, 1713571200000, 1713578400000, 1713585600000, 1713592800000, 1713600000000, 1713607200000, 1713614400000, 1713621600000, 1713628800000, 1713636000000, 1713643200000, 1713650400000, 1713657600000]
          }
        },
        "y": {
          "field": "v", "type": "quantitative",
          "axis": {"orient": "right", "title": null, "labels": false, "tickSize": -6, "tickCount": 10, "values": [24, 26, 28, 30, 32, 34, 36, 38, 40]}
        },
        "color": {"field": "s", "type": "nominal"}
      }
    },
    {
      "data": {
        "values": [
          {"t": "2024-04-18T01:40:00Z", "label": "Sunset"},
          {"t": "2024-04-18T12:15:00Z", "label": "Sunrise"},
          {"t": "2024-04-19T01:34:00Z", "label": "Sunset"},
          {"t": "2024-04-19T12:20:00Z", "label": "Sunrise"},
          {"t": "2024-04-20T01:34:00Z", "label": "Sunset"},
          {"t": "2024-04-20T12:13:00Z", "label": "Sunrise"}
        ]
      },
      "mark": {"type": "rule", "color": "black", "strokeWidth": 1},
      "encoding": {
        "x": {"field": "t", "type": "temporal", "axis": null},
        "y": {"datum": 37.7, "type": "quantitative", "axis": null},
        "y2": {"datum": 24}
      }
    },
    {
      "data": {
        "values": [
          {"t": "2024-04-18T01:40:00Z", "label": "Sunset"},
          {"t": "2024-04-18T12:15:00Z", "label": "Sunrise"},
          {"t": "2024-04-19T01:34:00Z", "label": "Sunset"},
          {"t": "2024-04-19T12:20:00Z", "label": "Sunrise"},
          {"t": "2024-04-20T01:34:00Z", "label": "Sunset"},
          {"t": "2024-04-20T12:13:00Z", "label": "Sunrise"}
        ]
      },
      "mark": {"type": "text", "angle": 270, "align": "left", "baseline": "middle", "dy": 1, "font": "DejaVu Sans Mono", "fontSize": 10, "color": "black"},
      "encoding": {
        "x": {"field": "t", "type": "temporal", "axis": null},
        "y": {"datum": 37.87, "type": "quantitative", "axis": null},
        "text": {"field": "label"}
      }
    }
  ]
}
